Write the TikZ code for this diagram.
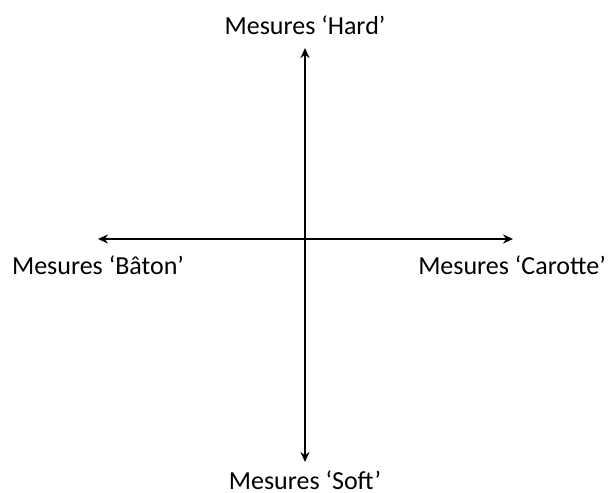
\documentclass[tikz,border=0pt]{standalone}
\usepackage{fontspec}
\setmainfont{Carlito}
\usetikzlibrary{arrows.meta, positioning}

\begin{document}
\begin{tikzpicture}[
    x=1pt, y=-1pt,
    every node/.style={font=\fontsize{26}{31}\selectfont, inner sep=0pt},
    axisline/.style={line width=1.8pt, {Stealth[length=10pt,width=9pt]}-{Stealth[length=10pt,width=9pt]}},
]
\useasboundingbox (0,0) rectangle (611,493);
% labels
\node (hard) at (305,25) {Mesures ‘Hard’};
\node (soft) at (305,480) {Mesures ‘Soft’};
\node (baton) at (98,265) {Mesures ‘Bâton’};
\node (carotte) at (512,265) {Mesures ‘Carotte’};
% axis ends
\coordinate (top) at (305,48);
\coordinate (bottom) at (305,462);
\coordinate (left) at (98,239);
\coordinate (right) at (513,239);
\draw[axisline] (left) -- (right);
\draw[axisline] (top) -- (bottom);
\end{tikzpicture}
\end{document}
